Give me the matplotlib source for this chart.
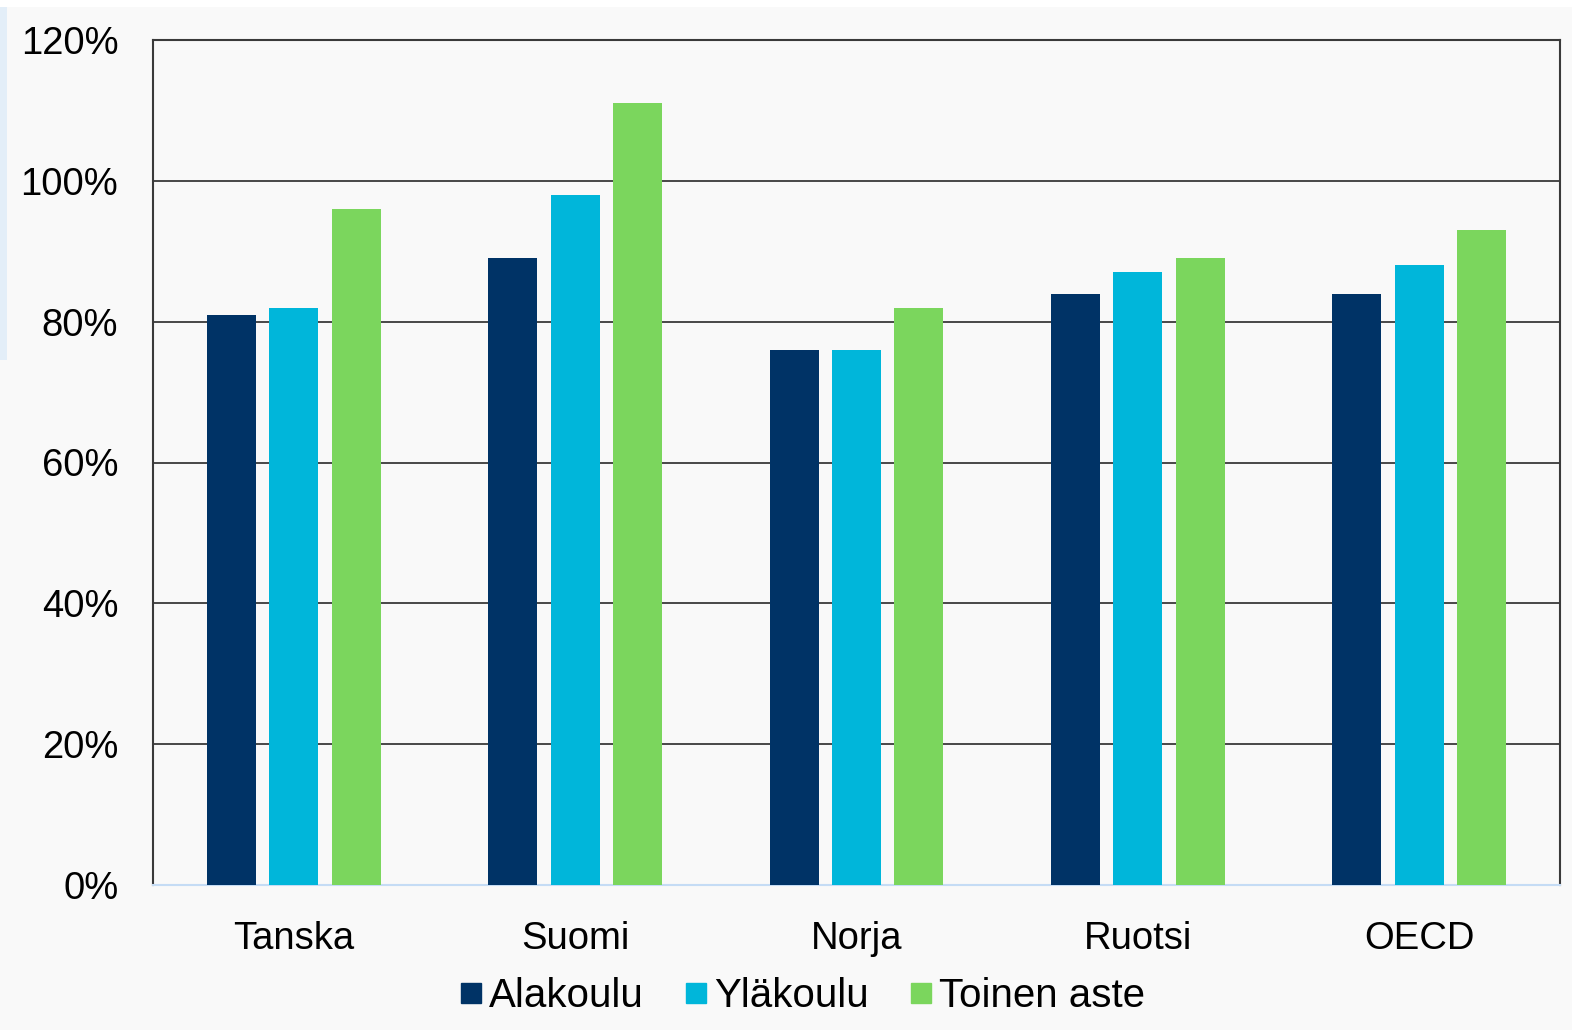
import matplotlib
matplotlib.use("Agg")
import matplotlib.pyplot as plt
import numpy as np
from matplotlib.patches import Rectangle
from matplotlib.lines import Line2D

categories = ["Tanska", "Suomi", "Norja", "Ruotsi", "OECD"]
series_names = ["Alakoulu", "Yläkoulu", "Toinen aste"]
alakoulu = [81, 89, 76, 84, 84]
ylakoulu = [82, 98, 76, 87, 88]
toinen_aste = [96, 111, 82, 89, 93]
yticks = [0, 20, 40, 60, 80, 100, 120]
colors = ["#003366", "#00B6DA", "#7BD65D"]

plt.rcParams['font.family'] = ['Liberation Sans', 'DejaVu Sans']

W, H = 1572, 1030
fig = plt.figure(figsize=(W/100, H/100), dpi=100, facecolor="#f9f9f9")
# white top strip and light blue left strip
fig.patches.append(Rectangle((0, 1 - 7/H), 1, 7/H, transform=fig.transFigure,
                             facecolor="white", edgecolor="none", zorder=0))
fig.patches.append(Rectangle((0, 1 - 360/H), 7/W, (360-7)/H, transform=fig.transFigure,
                             facecolor="#e3eef8", edgecolor="none", zorder=0))

ax = fig.add_axes([153/W, 1 - 885/H, (1560-153)/W, (885-40)/H])
ax.set_facecolor("#f9f9f9")

x = np.arange(len(categories))
bw = 0.174
step = 0.222
data = [alakoulu, ylakoulu, toinen_aste]
for i, (vals, c, name) in enumerate(zip(data, colors, series_names)):
    ax.bar(x + (i - 1) * step, vals, width=bw, color=c, label=name, zorder=3)

FS = 27.5
ax.set_xlim(-0.5, len(categories) - 0.5)
ax.set_ylim(0, 120)
ax.set_yticks(yticks)
ax.set_yticklabels([f"{v}%" for v in yticks], fontsize=FS)
ax.set_xticks(x)
ax.set_xticklabels(categories, fontsize=FS)
ax.tick_params(axis='both', length=0)
ax.tick_params(axis='y', pad=25)
ax.tick_params(axis='x', pad=26)
ax.yaxis.grid(True, color="#3a3a3a", linewidth=1.3, zorder=1)
ax.set_axisbelow(True)
for s in ["top", "left", "right"]:
    ax.spines[s].set_color("#3a3a3a")
    ax.spines[s].set_linewidth(1.5)
ax.spines["bottom"].set_color("#c5dcf5")
ax.spines["bottom"].set_linewidth(1.5)

handles = [Line2D([], [], marker='s', linestyle='none', markersize=14,
                  markerfacecolor=c, markeredgecolor=c) for c in colors]
fig.legend(handles, series_names, loc='center', bbox_to_anchor=(802/W, 1 - 996/H),
           ncol=3, frameon=False, fontsize=29, handlelength=0.6,
           handletextpad=0.14, columnspacing=1.0)

fig.savefig("out.png", dpi=100, facecolor=fig.get_facecolor())
